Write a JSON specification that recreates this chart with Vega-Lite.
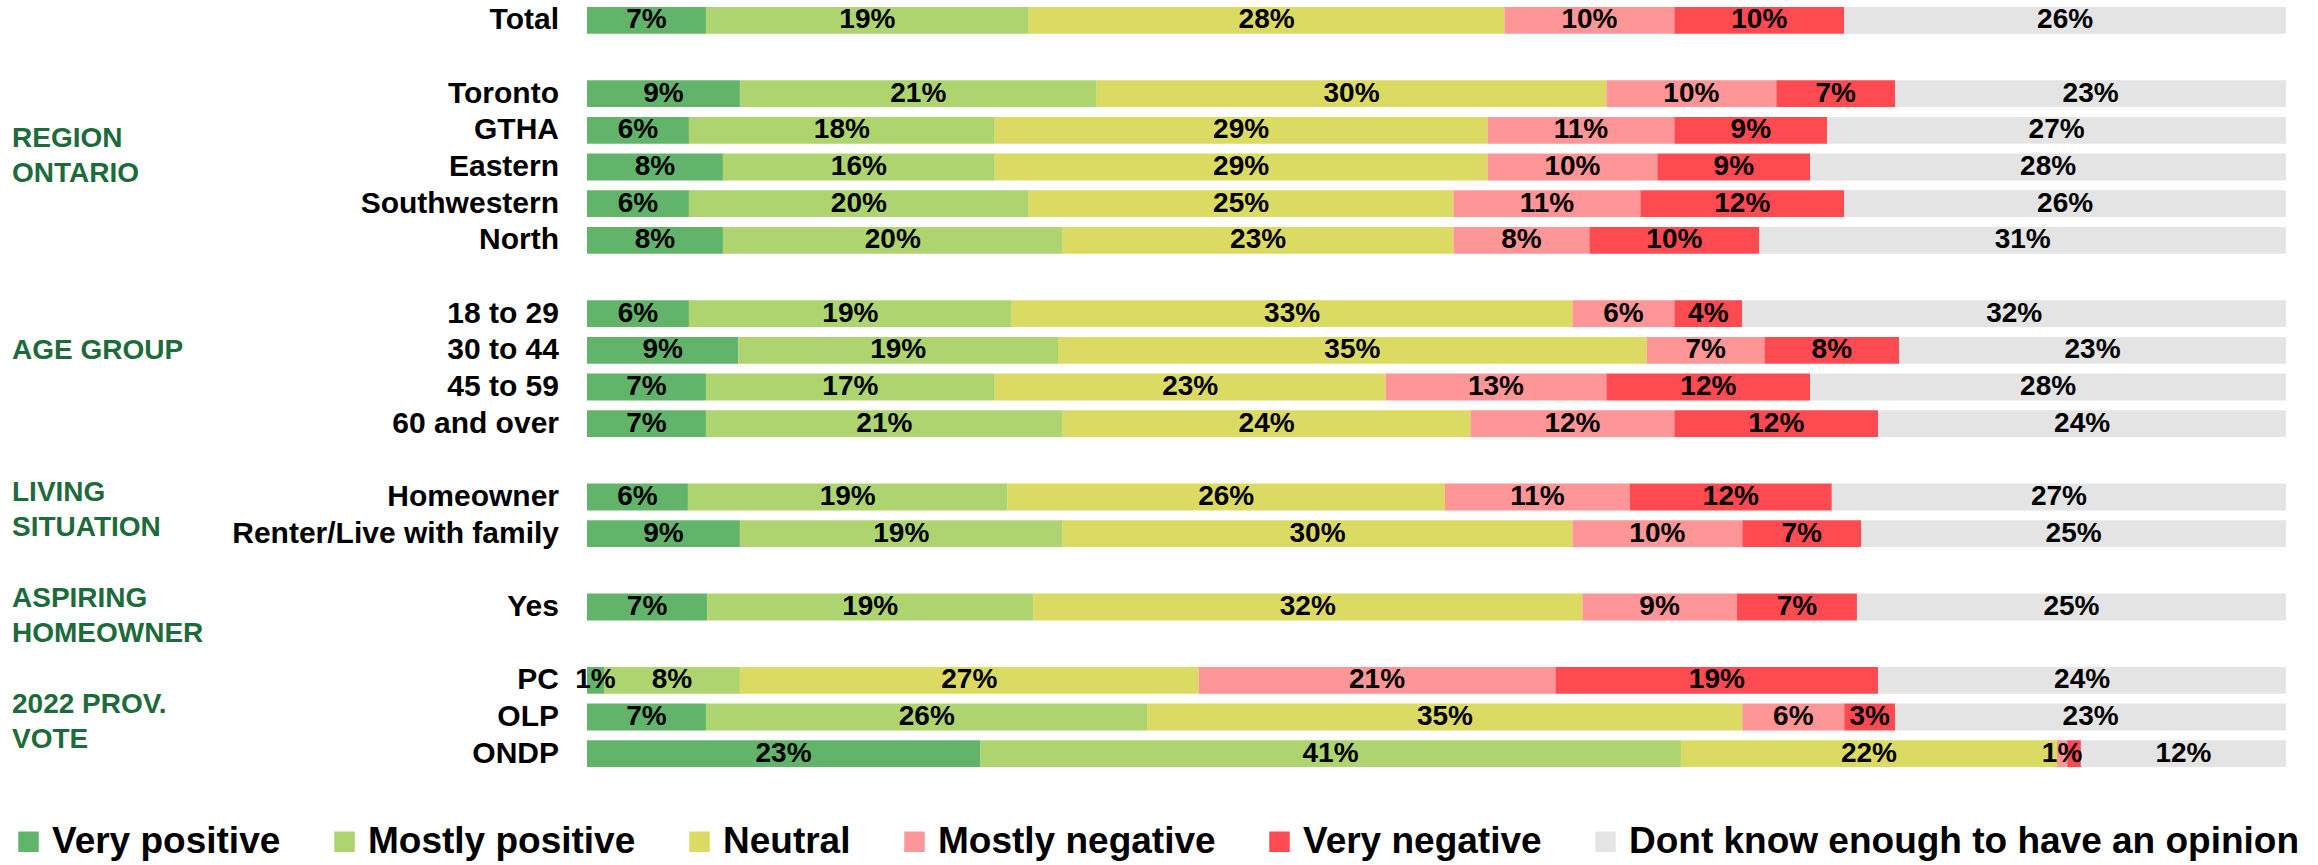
{
  "$schema": "https://vega.github.io/schema/vega-lite/v6.json",
  "width": 2274,
  "height": 770,
  "autosize": {"type": "none"},
  "padding": {"left": 12, "top": 2, "right": 32, "bottom": 93},
  "config": {"view": {"stroke": null}, "font": "Liberation Sans"},
  "datasets": {
    "survey": [
      {"row": "Total", "answer": "Very positive", "k": 1, "pct": 7, "label": "7%"},
      {"row": "Total", "answer": "Mostly positive", "k": 2, "pct": 19, "label": "19%"},
      {"row": "Total", "answer": "Neutral", "k": 3, "pct": 28, "label": "28%"},
      {"row": "Total", "answer": "Mostly negative", "k": 4, "pct": 10, "label": "10%"},
      {"row": "Total", "answer": "Very negative", "k": 5, "pct": 10, "label": "10%"},
      {"row": "Total", "answer": "Dont know enough to have an opinion", "k": 6, "pct": 26, "label": "26%"},
      {"row": "Toronto", "answer": "Very positive", "k": 1, "pct": 9, "label": "9%"},
      {"row": "Toronto", "answer": "Mostly positive", "k": 2, "pct": 21, "label": "21%"},
      {"row": "Toronto", "answer": "Neutral", "k": 3, "pct": 30, "label": "30%"},
      {"row": "Toronto", "answer": "Mostly negative", "k": 4, "pct": 10, "label": "10%"},
      {"row": "Toronto", "answer": "Very negative", "k": 5, "pct": 7, "label": "7%"},
      {"row": "Toronto", "answer": "Dont know enough to have an opinion", "k": 6, "pct": 23, "label": "23%"},
      {"row": "GTHA", "answer": "Very positive", "k": 1, "pct": 6, "label": "6%"},
      {"row": "GTHA", "answer": "Mostly positive", "k": 2, "pct": 18, "label": "18%"},
      {"row": "GTHA", "answer": "Neutral", "k": 3, "pct": 29, "label": "29%"},
      {"row": "GTHA", "answer": "Mostly negative", "k": 4, "pct": 11, "label": "11%"},
      {"row": "GTHA", "answer": "Very negative", "k": 5, "pct": 9, "label": "9%"},
      {"row": "GTHA", "answer": "Dont know enough to have an opinion", "k": 6, "pct": 27, "label": "27%"},
      {"row": "Eastern", "answer": "Very positive", "k": 1, "pct": 8, "label": "8%"},
      {"row": "Eastern", "answer": "Mostly positive", "k": 2, "pct": 16, "label": "16%"},
      {"row": "Eastern", "answer": "Neutral", "k": 3, "pct": 29, "label": "29%"},
      {"row": "Eastern", "answer": "Mostly negative", "k": 4, "pct": 10, "label": "10%"},
      {"row": "Eastern", "answer": "Very negative", "k": 5, "pct": 9, "label": "9%"},
      {"row": "Eastern", "answer": "Dont know enough to have an opinion", "k": 6, "pct": 28, "label": "28%"},
      {"row": "Southwestern", "answer": "Very positive", "k": 1, "pct": 6, "label": "6%"},
      {"row": "Southwestern", "answer": "Mostly positive", "k": 2, "pct": 20, "label": "20%"},
      {"row": "Southwestern", "answer": "Neutral", "k": 3, "pct": 25, "label": "25%"},
      {"row": "Southwestern", "answer": "Mostly negative", "k": 4, "pct": 11, "label": "11%"},
      {"row": "Southwestern", "answer": "Very negative", "k": 5, "pct": 12, "label": "12%"},
      {"row": "Southwestern", "answer": "Dont know enough to have an opinion", "k": 6, "pct": 26, "label": "26%"},
      {"row": "North", "answer": "Very positive", "k": 1, "pct": 8, "label": "8%"},
      {"row": "North", "answer": "Mostly positive", "k": 2, "pct": 20, "label": "20%"},
      {"row": "North", "answer": "Neutral", "k": 3, "pct": 23, "label": "23%"},
      {"row": "North", "answer": "Mostly negative", "k": 4, "pct": 8, "label": "8%"},
      {"row": "North", "answer": "Very negative", "k": 5, "pct": 10, "label": "10%"},
      {"row": "North", "answer": "Dont know enough to have an opinion", "k": 6, "pct": 31, "label": "31%"},
      {"row": "18 to 29", "answer": "Very positive", "k": 1, "pct": 6, "label": "6%"},
      {"row": "18 to 29", "answer": "Mostly positive", "k": 2, "pct": 19, "label": "19%"},
      {"row": "18 to 29", "answer": "Neutral", "k": 3, "pct": 33, "label": "33%"},
      {"row": "18 to 29", "answer": "Mostly negative", "k": 4, "pct": 6, "label": "6%"},
      {"row": "18 to 29", "answer": "Very negative", "k": 5, "pct": 4, "label": "4%"},
      {"row": "18 to 29", "answer": "Dont know enough to have an opinion", "k": 6, "pct": 32, "label": "32%"},
      {"row": "30 to 44", "answer": "Very positive", "k": 1, "pct": 9, "label": "9%"},
      {"row": "30 to 44", "answer": "Mostly positive", "k": 2, "pct": 19, "label": "19%"},
      {"row": "30 to 44", "answer": "Neutral", "k": 3, "pct": 35, "label": "35%"},
      {"row": "30 to 44", "answer": "Mostly negative", "k": 4, "pct": 7, "label": "7%"},
      {"row": "30 to 44", "answer": "Very negative", "k": 5, "pct": 8, "label": "8%"},
      {"row": "30 to 44", "answer": "Dont know enough to have an opinion", "k": 6, "pct": 23, "label": "23%"},
      {"row": "45 to 59", "answer": "Very positive", "k": 1, "pct": 7, "label": "7%"},
      {"row": "45 to 59", "answer": "Mostly positive", "k": 2, "pct": 17, "label": "17%"},
      {"row": "45 to 59", "answer": "Neutral", "k": 3, "pct": 23, "label": "23%"},
      {"row": "45 to 59", "answer": "Mostly negative", "k": 4, "pct": 13, "label": "13%"},
      {"row": "45 to 59", "answer": "Very negative", "k": 5, "pct": 12, "label": "12%"},
      {"row": "45 to 59", "answer": "Dont know enough to have an opinion", "k": 6, "pct": 28, "label": "28%"},
      {"row": "60 and over", "answer": "Very positive", "k": 1, "pct": 7, "label": "7%"},
      {"row": "60 and over", "answer": "Mostly positive", "k": 2, "pct": 21, "label": "21%"},
      {"row": "60 and over", "answer": "Neutral", "k": 3, "pct": 24, "label": "24%"},
      {"row": "60 and over", "answer": "Mostly negative", "k": 4, "pct": 12, "label": "12%"},
      {"row": "60 and over", "answer": "Very negative", "k": 5, "pct": 12, "label": "12%"},
      {"row": "60 and over", "answer": "Dont know enough to have an opinion", "k": 6, "pct": 24, "label": "24%"},
      {"row": "Homeowner", "answer": "Very positive", "k": 1, "pct": 6, "label": "6%"},
      {"row": "Homeowner", "answer": "Mostly positive", "k": 2, "pct": 19, "label": "19%"},
      {"row": "Homeowner", "answer": "Neutral", "k": 3, "pct": 26, "label": "26%"},
      {"row": "Homeowner", "answer": "Mostly negative", "k": 4, "pct": 11, "label": "11%"},
      {"row": "Homeowner", "answer": "Very negative", "k": 5, "pct": 12, "label": "12%"},
      {"row": "Homeowner", "answer": "Dont know enough to have an opinion", "k": 6, "pct": 27, "label": "27%"},
      {"row": "Renter/Live with family", "answer": "Very positive", "k": 1, "pct": 9, "label": "9%"},
      {"row": "Renter/Live with family", "answer": "Mostly positive", "k": 2, "pct": 19, "label": "19%"},
      {"row": "Renter/Live with family", "answer": "Neutral", "k": 3, "pct": 30, "label": "30%"},
      {"row": "Renter/Live with family", "answer": "Mostly negative", "k": 4, "pct": 10, "label": "10%"},
      {"row": "Renter/Live with family", "answer": "Very negative", "k": 5, "pct": 7, "label": "7%"},
      {"row": "Renter/Live with family", "answer": "Dont know enough to have an opinion", "k": 6, "pct": 25, "label": "25%"},
      {"row": "Yes", "answer": "Very positive", "k": 1, "pct": 7, "label": "7%"},
      {"row": "Yes", "answer": "Mostly positive", "k": 2, "pct": 19, "label": "19%"},
      {"row": "Yes", "answer": "Neutral", "k": 3, "pct": 32, "label": "32%"},
      {"row": "Yes", "answer": "Mostly negative", "k": 4, "pct": 9, "label": "9%"},
      {"row": "Yes", "answer": "Very negative", "k": 5, "pct": 7, "label": "7%"},
      {"row": "Yes", "answer": "Dont know enough to have an opinion", "k": 6, "pct": 25, "label": "25%"},
      {"row": "PC", "answer": "Very positive", "k": 1, "pct": 1, "label": "1%"},
      {"row": "PC", "answer": "Mostly positive", "k": 2, "pct": 8, "label": "8%"},
      {"row": "PC", "answer": "Neutral", "k": 3, "pct": 27, "label": "27%"},
      {"row": "PC", "answer": "Mostly negative", "k": 4, "pct": 21, "label": "21%"},
      {"row": "PC", "answer": "Very negative", "k": 5, "pct": 19, "label": "19%"},
      {"row": "PC", "answer": "Dont know enough to have an opinion", "k": 6, "pct": 24, "label": "24%"},
      {"row": "OLP", "answer": "Very positive", "k": 1, "pct": 7, "label": "7%"},
      {"row": "OLP", "answer": "Mostly positive", "k": 2, "pct": 26, "label": "26%"},
      {"row": "OLP", "answer": "Neutral", "k": 3, "pct": 35, "label": "35%"},
      {"row": "OLP", "answer": "Mostly negative", "k": 4, "pct": 6, "label": "6%"},
      {"row": "OLP", "answer": "Very negative", "k": 5, "pct": 3, "label": "3%"},
      {"row": "OLP", "answer": "Dont know enough to have an opinion", "k": 6, "pct": 23, "label": "23%"},
      {"row": "ONDP", "answer": "Very positive", "k": 1, "pct": 23, "label": "23%"},
      {"row": "ONDP", "answer": "Mostly positive", "k": 2, "pct": 41, "label": "41%"},
      {"row": "ONDP", "answer": "Neutral", "k": 3, "pct": 22, "label": "22%"},
      {"row": "ONDP", "answer": "Mostly negative", "k": 4, "pct": 0.6, "label": "1%"},
      {"row": "ONDP", "answer": "Very negative", "k": 5, "pct": 0.8, "label": ""},
      {"row": "ONDP", "answer": "Dont know enough to have an opinion", "k": 6, "pct": 12, "label": "12%"}
    ],
    "groups": [
      {"row": "GTHA", "line": "REGION"},
      {"row": "Eastern", "line": "ONTARIO"},
      {"row": "30 to 44", "line": "AGE GROUP"},
      {"row": "Homeowner", "line": "LIVING"},
      {"row": "Renter/Live with family", "line": "SITUATION"},
      {"row": "Yes", "line": "ASPIRING"},
      {"row": "     ", "line": "HOMEOWNER"},
      {"row": "OLP", "line": "2022 PROV."},
      {"row": "ONDP", "line": "VOTE"}
    ]
  },
  "resolve": {"scale": {"y": "independent"}},
  "layer": [
    {
      "layer": [
        {
          "data": {"name": "survey"},
          "mark": {"type": "bar"},
          "encoding": {
            "y": {
              "field": "row", "type": "nominal", "axis": null,
              "scale": {
                "domain": ["Total", " ", "Toronto", "GTHA", "Eastern", "Southwestern", "North", "  ", "18 to 29", "30 to 44", "45 to 59", "60 and over", "   ", "Homeowner", "Renter/Live with family", "    ", "Yes", "     ", "PC", "OLP", "ONDP"],
                "paddingInner": 0.27, "paddingOuter": 0.135
              }
            },
            "x": {
              "field": "pct", "type": "quantitative", "stack": "normalize", "axis": null,
              "scale": {"domain": [-0.33843, 1], "nice": false, "zero": false}
            },
            "color": {
              "field": "answer", "type": "nominal",
              "scale": {
                "domain": ["Very positive", "Mostly positive", "Neutral", "Mostly negative", "Very negative", "Dont know enough to have an opinion"],
                "range": ["#62B46A", "#AED46F", "#DBDA62", "#FE9596", "#FE4A51", "#E3E4E3"]
              },
              "legend": {
                "title": null, "orient": "none", "legendX": -2, "legendY": 821,
                "direction": "horizontal", "symbolType": "square", "symbolSize": 420,
                "symbolStrokeWidth": 0, "labelFontSize": 37, "labelFont": "Liberation Sans",
                "labelFontWeight": "bold", "labelColor": "#000000", "labelLimit": 2000,
                "columnPadding": 45, "labelOffset": 5, "padding": 0
              }
            },
            "order": {"field": "k", "type": "quantitative"}
          }
        },
        {
          "data": {"name": "survey"},
          "mark": {"type": "text", "fontSize": 28, "fontWeight": "bold", "color": "#000000", "baseline": "middle", "align": "center"},
          "encoding": {
            "y": {"field": "row", "type": "nominal"},
            "x": {"field": "pct", "type": "quantitative", "stack": "normalize", "bandPosition": 0.5},
            "detail": {"field": "answer"},
            "order": {"field": "k", "type": "quantitative"},
            "text": {"field": "label"}
          }
        },
        {
          "data": {"name": "survey"},
          "transform": [{"filter": "datum.k == 1"}],
          "mark": {"type": "text", "fontSize": 30, "fontWeight": "bold", "color": "#000000", "baseline": "middle", "align": "right", "dx": -28},
          "encoding": {
            "y": {"field": "row", "type": "nominal"},
            "x": {"datum": 0},
            "text": {"field": "row"}
          }
        }
      ]
    },
    {
      "data": {"name": "groups"},
      "mark": {"type": "text", "fontSize": 28, "fontWeight": "bold", "color": "#1D6B3B", "baseline": "middle", "align": "left"},
      "encoding": {
        "y": {
          "field": "row", "type": "nominal", "axis": null,
          "scale": {
            "type": "point", "padding": 0.5, "range": [13.3, 755.7],
            "domain": ["Total", " ", "Toronto", "GTHA", "Eastern", "Southwestern", "North", "  ", "18 to 29", "30 to 44", "45 to 59", "60 and over", "   ", "Homeowner", "Renter/Live with family", "    ", "Yes", "     ", "PC", "OLP", "ONDP"]
          }
        },
        "x": {"datum": -0.33843},
        "text": {"field": "line"}
      }
    }
  ]
}
